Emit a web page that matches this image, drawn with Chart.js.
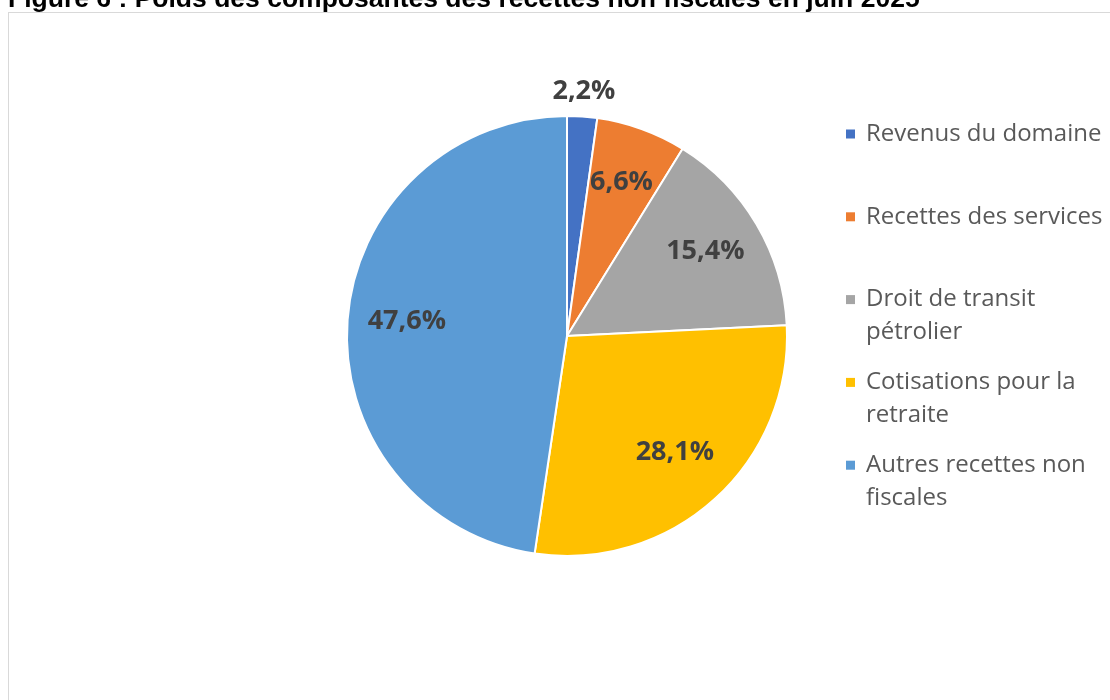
<!DOCTYPE html>
<html>
<head>
<meta charset="utf-8">
<script src="https://cdn.jsdelivr.net/npm/chart.js@4"></script>
<style>
  html, body { margin: 0; padding: 0; background: #ffffff; }
  #wrap { position: relative; width: 1110px; height: 700px; overflow: hidden; }
</style>
</head>
<body>
<div id="wrap"><canvas id="pieChart" width="1110" height="700"></canvas></div>
<script>
// Data
const titleText = "Figure 6 : Poids des composantes des recettes non fiscales en juin 2025";
const categories = [
  "Revenus du domaine",
  "Recettes des services",
  "Droit de transit pétrolier",
  "Cotisations pour la retraite",
  "Autres recettes non fiscales",
];
const shares = [2.2, 6.6, 15.4, 28.1, 47.6];
const sliceColors = ["#4472C4", "#ED7D31", "#A5A5A5", "#FFC000", "#5B9BD5"];

// Helper to wrap legend labels to a max pixel width
function wrapLabel(ctx, str, maxWidth) {
  let lines = [];
  let temp = "";
  str.split(" ").forEach((word) => {
    const test = temp ? temp + " " + word : word;
    if (temp && ctx.measureText(test).width > maxWidth) {
      lines.push(temp);
      temp = word;
    } else {
      temp = test;
    }
  });
  if (temp) lines.push(temp);
  return lines;
}

function formatShare(v) {
  return v.toFixed(1).replace(".", ",") + "%";
}

// Frame + cut-off title, drawn behind the pie
const framePlugin = {
  id: "frame",
  beforeDraw(chart) {
    const ctx = chart.ctx;
    ctx.save();
    ctx.strokeStyle = "#d9d9d9";
    ctx.lineWidth = 1;
    ctx.strokeRect(8.5, 12.5, 1200, 800);
    ctx.fillStyle = "#000000";
    ctx.font = "bold 26.5px 'Liberation Sans', Arial, sans-serif";
    ctx.textAlign = "left";
    ctx.textBaseline = "alphabetic";
    ctx.fillText(titleText, 8, 6.5);
    ctx.restore();
  },
};

// Percentage labels on the slices (small slices go outside)
const sliceLabelPlugin = {
  id: "sliceLabels",
  afterDatasetsDraw(chart) {
    const ctx = chart.ctx;
    const meta = chart.getDatasetMeta(0);
    ctx.save();
    ctx.font = "bold 27px 'Open Sans', sans-serif";
    ctx.fillStyle = "#404040";
    ctx.textAlign = "center";
    ctx.textBaseline = "middle";
    meta.data.forEach((arc, i) => {
      const { x, y, startAngle, endAngle, outerRadius } = arc.getProps(
        ["x", "y", "startAngle", "endAngle", "outerRadius"],
        true
      );
      const mid = (startAngle + endAngle) / 2;
      const outside = shares[i] < 3;
      const r = outside ? outerRadius + 25 : outerRadius * 0.73;
      const dy = outside ? 0 : -3;
      ctx.fillText(formatShare(shares[i]), x + Math.cos(mid) * r, y + Math.sin(mid) * r + dy);
    });
    ctx.restore();
  },
};

// Legend on the right, wrapped like the original
const sideLegendPlugin = {
  id: "sideLegend",
  afterDraw(chart) {
    const ctx = chart.ctx;
    const colors = chart.data.datasets[0].backgroundColor;
    ctx.save();
    ctx.font = "24px 'Open Sans', sans-serif";
    ctx.textAlign = "left";
    ctx.textBaseline = "middle";
    chart.data.labels.forEach((label, i) => {
      const top = 134 + i * 82.8;
      ctx.fillStyle = colors[i];
      ctx.fillRect(846, top - 4.5, 9, 9);
      ctx.fillStyle = "#595959";
      wrapLabel(ctx, label, 250).forEach((line, j) => {
        ctx.fillText(line, 866, top + j * 33);
      });
    });
    ctx.restore();
  },
};

new Chart(document.getElementById("pieChart").getContext("2d"), {
  type: "pie",
  data: {
    labels: categories,
    datasets: [
      {
        data: shares,
        backgroundColor: sliceColors,
        borderColor: "#ffffff",
        borderWidth: 2,
      },
    ],
  },
  options: {
    responsive: false,
    animation: false,
    layout: { padding: { top: 115, bottom: 143, left: 346, right: 322 } },
    plugins: {
      legend: { display: false },
      tooltip: { enabled: false },
    },
  },
  plugins: [framePlugin, sliceLabelPlugin, sideLegendPlugin],
});
</script>
</body>
</html>
